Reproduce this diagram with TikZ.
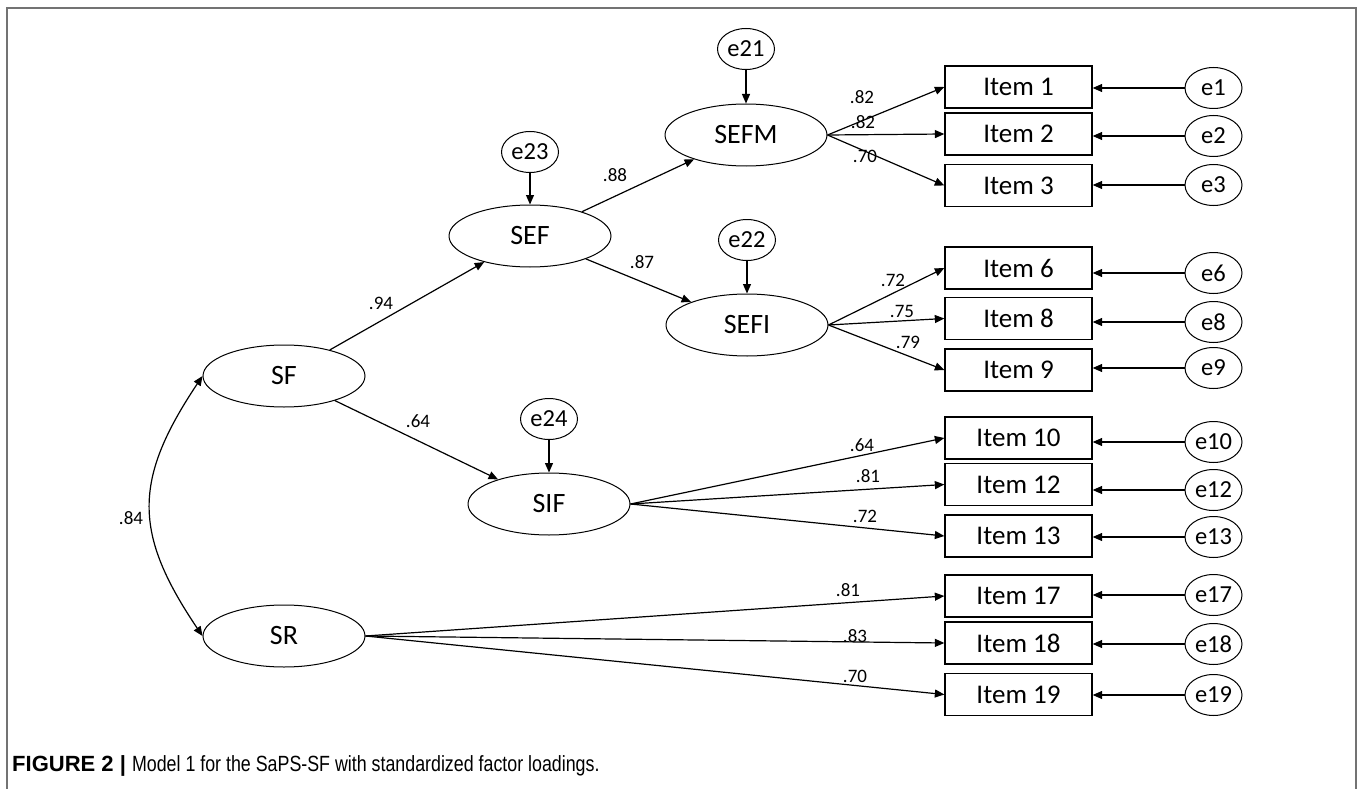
\documentclass[tikz,border=0pt]{standalone}
\usepackage{fontspec}
\setmainfont{Carlito}
\newfontfamily\capfont{Liberation Sans}
\usetikzlibrary{shapes.geometric,arrows.meta}
\begin{document}
\begin{tikzpicture}[x=1pt,y=-1pt,
  lat/.style={draw, ellipse, line width=1pt, minimum width=162pt, minimum height=62pt, inner sep=0pt, font=\fontsize{28}{30}\selectfont},
  err/.style={draw, ellipse, line width=1pt, minimum width=57pt, minimum height=41pt, inner sep=0pt, font=\fontsize{24.5}{28}\selectfont},
  itm/.style={draw, rectangle, line width=1.3pt, minimum width=147pt, minimum height=42pt, inner sep=0pt, font=\fontsize{27}{30}\selectfont},
  lbl/.style={font=\fontsize{19}{22}\selectfont, inner sep=0pt},
  arr/.style={draw, line width=1.2pt, -{Triangle[length=9.5pt,width=8pt]}},
  dbl/.style={draw, line width=1.2pt, {Triangle[length=9.5pt,width=8pt]}-{Triangle[length=9.5pt,width=8pt]}},
  frame/.style={draw=black!55, line width=1.5pt}
]
\useasboundingbox (0,0) rectangle (1360,789);
\draw[frame] (7,789) -- (7,8) -- (1356,8) -- (1356,789);

% latent variables
\node[lat] (SF)   at (284,376) {SF};
\node[lat] (SR)   at (284,636) {SR};
\node[lat] (SEF)  at (530,236) {SEF};
\node[lat] (SEFM) at (746,135) {SEFM};
\node[lat] (SEFI) at (747,325) {SEFI};
\node[lat] (SIF)  at (549,504) {SIF};

% disturbances
\node[err] (e23) at (530,152) {e23};
\node[err] (e21) at (746,49) {e21};
\node[err] (e22) at (747,240) {e22};
\node[err] (e24) at (549,419) {e24};

% items
\foreach \n/\y in {1/87,2/134,3/185.5,6/268,8/318.5,9/370,10/438,12/484.5,13/536,17/596,18/643,19/694.5}
  \node[itm] (I\n) at (1018.5,\y) {Item \n};
% item errors
\foreach \n/\y in {1/88,2/136,3/185,6/273,8/322,9/368,10/442,12/490,13/537,17/595,18/644,19/695}
  \node[err] (e\n) at (1213.5,\y) {e\n};
\foreach \n in {1,2,3,6,8,9,10,12,13,17,18,19}
  \draw[arr] (e\n.west) -- (e\n.west -| I\n.east);

% structural paths
\draw[arr] (SF) -- (SEF);
\draw[arr] (SF) -- (SIF);
\draw[arr] (SEF) -- (SEFM);
\draw[arr] (SEF) -- (SEFI);
\draw[arr] (e23) -- (SEF);
\draw[arr] (e21) -- (SEFM);
\draw[arr] (e22) -- (SEFI);
\draw[arr] (e24) -- (SIF);

% loadings
\foreach \n in {1,2,3} \draw[arr] (SEFM.east) -- (I\n.west);
\foreach \n in {6,8,9} \draw[arr] (SEFI.east) -- (I\n.west);
\foreach \n in {10,12,13} \draw[arr] (SIF.east) -- (I\n.west);
\foreach \n in {17,18,19} \draw[arr] (SR.east) -- (I\n.west);

% covariance
\draw[dbl] (SF.west) .. controls (133,480) and (133,533) .. (SR.west);

% labels
\node[lbl] (l84)  at (131,518) {.84};
\node[lbl] (l94)  at (381,303) {.94};
\node[lbl] (l64a) at (418,421) {.64};
\node[lbl] (l88)  at (615,175) {.88};
\node[lbl] (l87)  at (642,262) {.87};
\node[lbl] (l82a) at (862,97)  {.82};
\node[lbl] (l82b) at (863,122) {.82};
\node[lbl] (l70a) at (865,156) {.70};
\node[lbl] (l72a) at (893,280) {.72};
\node[lbl] (l75)  at (902,311) {.75};
\node[lbl] (l79)  at (908,342) {.79};
\node[lbl] (l64b) at (862,445) {.64};
\node[lbl] (l81a) at (868,476) {.81};
\node[lbl] (l72b) at (865,516) {.72};
\node[lbl] (l81b) at (848,590) {.81};
\node[lbl] (l83)  at (855,636) {.83};
\node[lbl] (l70b) at (855,676) {.70};

% caption
\node[anchor=base west, inner sep=0pt, font=\capfont\fontsize{22}{24}\selectfont] (cap) at (12,771)
  {\textbf{FIGURE 2 |} \scalebox{0.81}[1]{Model 1 for the SaPS-SF with standardized factor loadings.}};
\end{tikzpicture}
\end{document}
